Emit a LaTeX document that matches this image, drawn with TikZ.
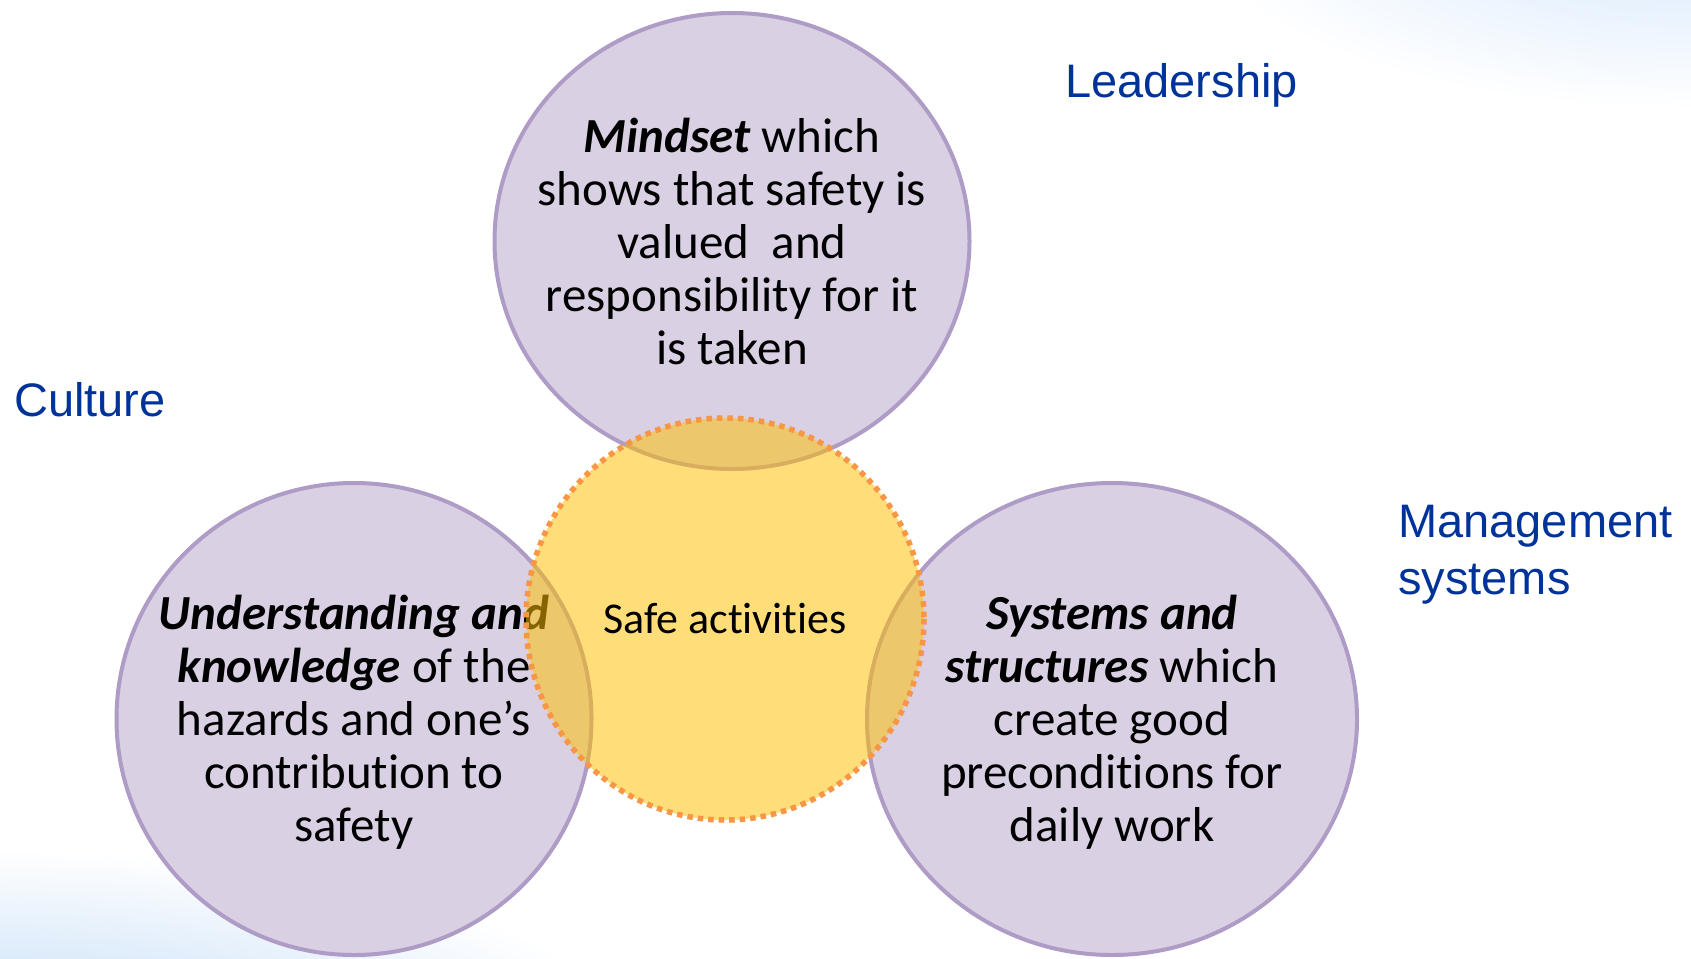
\documentclass[tikz,border=0pt]{standalone}
\usepackage{fontspec}
\setmainfont{Carlito}[RawFeature=-liga]
\newfontfamily\labelfont{Liberation Sans}
\usetikzlibrary{shapes.geometric}
\definecolor{ringfill}{RGB}{217,208,227}
\definecolor{ringline}{RGB}{174,156,198}
\definecolor{coreyellow}{RGB}{255,192,0}
\definecolor{coreline}{RGB}{247,150,70}
\definecolor{labelblue}{RGB}{0,51,153}
\definecolor{lowblue}{RGB}{187,216,245}
\definecolor{highblue}{RGB}{212,231,252}
\begin{document}
\begin{tikzpicture}[x=1pt,y=-1pt,
    ring/.style={ellipse,draw=ringline,line width=4pt,fill=ringfill,inner sep=0pt},
    ringtext/.style={align=center,inner sep=0pt,font=\fontsize{49}{53}\selectfont},
    core/.style={ellipse,fill=coreyellow,fill opacity=0.52,text opacity=1,inner sep=0pt,
      font=\fontsize{44}{53}\selectfont},
    coredots/.style={draw=coreline,line width=5.5pt,dash pattern=on 5.5pt off 5pt},
    area/.style={align=left,inner sep=0pt,text=labelblue,font=\labelfont\fontsize{47}{57}\selectfont}]
  \useasboundingbox (0,0) rectangle (1691,958);
  % soft corners of the slide
  \begin{scope}
    \clip (0,0) rectangle (1691,958);
    \shade[inner color=lowblue,outer color=white] (0,1060) ellipse [x radius=650,y radius=210];
    \shade[inner color=highblue,outer color=white] (1691,-80) ellipse [x radius=500,y radius=190];
  \end{scope}
  % the three rings
  \node[ring,minimum width=475pt,minimum height=456pt] (mindset) at (732,241) {};
  \node[ring,minimum width=475pt,minimum height=472pt] (knowledge) at (354,719) {};
  \node[ring,minimum width=490pt,minimum height=472pt] (structures) at (1112,719) {};
  \node[ringtext] (mindsettext) at (mindset.center)
    {\textbf{\textit{Mindset}} which\\shows that safety is\\valued~ and\\responsibility for it\\is taken};
  \node[ringtext,yshift=-3pt] (knowledgetext) at (knowledge.center)
    {\textbf{\textit{Understanding and}}\\\textbf{\textit{knowledge}} of the\\hazards and one’s\\contribution to\\safety};
  \node[ringtext,yshift=-3pt] (structurestext) at (structures.center)
    {\textbf{\textit{Systems and}}\\\textbf{\textit{structures}} which\\create good\\preconditions for\\daily work};
  % centre
  \node[core,minimum width=398pt,minimum height=402pt] (safe) at (725,619) {Safe activities};
  \draw[coredots] (safe.center) ellipse [x radius=199,y radius=201];
  % labels
  \node[area,anchor=base west] (leadership) at (1065,97) {Leadership};
  \node[area,anchor=base west] (culture) at (14,416) {Culture};
  \node[area,anchor=north west] (management) at (1398,505) {Management\\systems};
\end{tikzpicture}
\end{document}
